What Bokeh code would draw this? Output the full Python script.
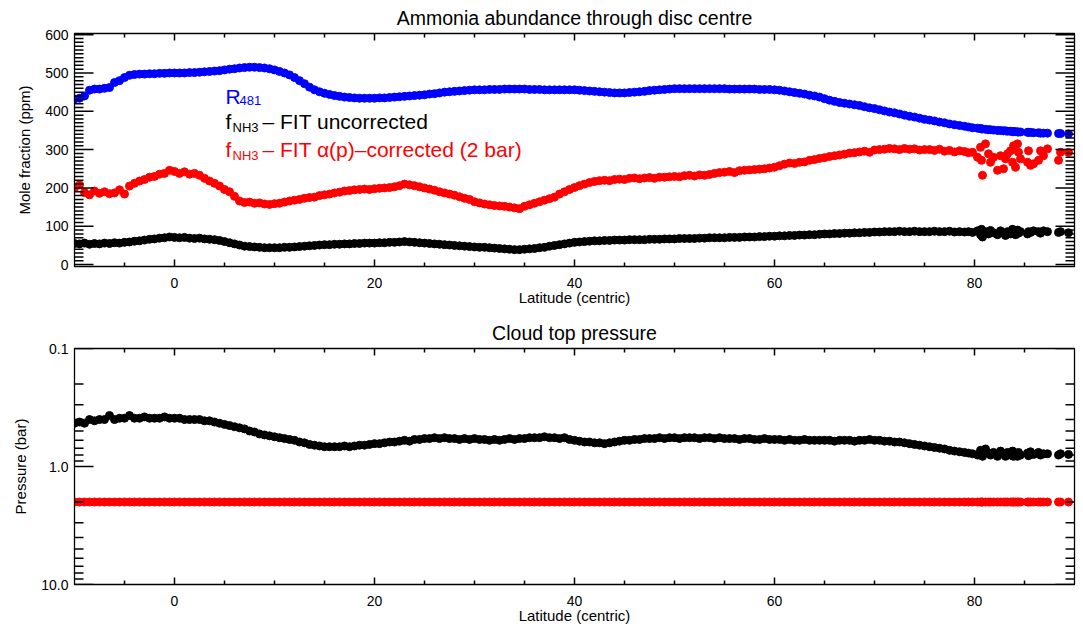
from bokeh.plotting import figure
from bokeh.models import Range1d, FixedTicker, PrintfTickFormatter, Label
from bokeh.layouts import column
from bokeh.embed import file_html
from bokeh.resources import INLINE

FONT = "Liberation Sans"

# ---------------- data ----------------
# latitude grid: -10 .. 75 every 0.5 deg, then irregular polar samples
lat_eq = [-10 + 0.5 * i for i in range(171)]
lat_polar = [75.5, 76.0, 76.5, 77.0, 77.5, 78.0, 78.5, 79.0, 79.4, 79.8,
             80.3, 80.6, 80.7, 80.8, 81.1, 81.4, 81.6, 81.9, 82.3, 82.6,
             82.9, 83.1, 83.3, 83.6, 83.8, 83.9, 84.1, 84.3, 84.4, 84.6,
             85.3, 85.4, 85.6, 85.9, 86.4, 86.6, 86.9, 87.3, 88.4, 88.6, 89.4]

# R481 (blue)
r481_eq = [
    432, 434, 440, 455, 458, 458, 460, 462, 475, 480,
    488, 494, 496, 497, 497, 498, 498, 499, 499, 500,
    500, 500, 500, 501, 501, 502, 503, 504, 505, 506,
    508, 510, 511, 513, 514, 515, 515, 514, 513, 511,
    508, 504, 500, 495, 488, 480, 472, 463, 456, 451,
    447, 444, 441, 439, 437, 436, 435, 434, 434, 434,
    434, 435, 435, 436, 437, 438, 439, 440, 441, 442,
    443, 445, 446, 448, 450, 451, 452, 453, 454, 455,
    456, 456, 456, 457, 457, 457, 458, 458, 458, 458,
    458, 457, 457, 457, 456, 456, 456, 456, 456, 456,
    456, 455, 454, 453, 452, 451, 450, 449, 448, 448,
    448, 449, 450, 451, 452, 454, 455, 456, 457, 458,
    459, 459, 459, 459, 459, 459, 459, 459, 459, 459,
    459, 458, 458, 458, 458, 458, 458, 457, 457, 457,
    456, 455, 453, 451, 449, 447, 445, 442, 440, 437,
    433, 429, 426, 423, 421, 419, 417, 415, 412, 409,
    407, 404, 401, 398, 396, 393, 390, 387, 385, 382,
    379]
r481_polar = [377, 375, 372, 370, 367, 365, 363, 361, 359, 357,
              356, 355, 354, 354, 353, 352, 352, 351, 350, 350,
              349, 349, 348, 348, 347, 347, 347, 346, 346, 346,
              345, 345, 345, 344, 344, 343, 343, 343, 342, 342, 341]

# f_NH3 - FIT alpha(p)-corrected (red)
fnh3_corr_eq = [
    200, 208, 188, 182, 192, 186, 190, 185, 187, 195,
    184, 205, 212, 218, 222, 228, 230, 236, 238, 246,
    243, 238, 242, 236, 238, 233, 225, 218, 212, 205,
    196, 190, 178, 166, 162, 163, 160, 161, 158, 157,
    159, 160, 163, 166, 168, 170, 173, 175, 176, 180,
    182, 184, 187, 189, 192, 193, 195, 196, 197, 196,
    198, 199, 200, 201, 203, 206, 210, 208, 206, 203,
    200, 197, 194, 190, 187, 184, 181, 177, 173, 170,
    164, 161, 158, 156, 154, 153, 152, 150, 148, 146,
    152, 156, 160, 164, 168, 172, 176, 184, 190, 196,
    201, 206, 210, 214, 217, 219, 220, 219, 222, 223,
    222, 225, 226, 224, 226, 227, 225, 228, 228, 229,
    230, 229, 232, 233, 231, 234, 233, 235, 238, 240,
    241, 243, 240, 245, 246, 247, 248, 249, 250, 252,
    254, 258, 262, 265, 264, 267, 268, 272, 274, 277,
    279, 282, 284, 286, 288, 291, 292, 294, 296, 293,
    299, 300, 301, 303, 302, 300, 303, 301, 302, 299,
    300]
fnh3_corr_polar = [300, 298, 301, 296, 298, 294, 297, 295, 292, 293,
                   280, 306, 272, 233, 315, 289, 267, 280, 246, 284,
                   250, 276, 289, 297, 267, 310, 254, 315, 293, 276,
                   267, 297, 259, 263, 272, 297, 284, 302, 272, 293, 293]

# f_NH3 - FIT uncorrected (black)
fnh3_unc_eq = [
    55, 54, 56, 53, 55, 54, 56, 55, 57, 56,
    58, 59, 61, 62, 64, 66, 67, 69, 70, 72,
    71, 70, 71, 69, 68, 69, 67, 66, 65, 63,
    60, 57, 54, 51, 48, 47, 46, 45, 44, 44,
    44, 44, 45, 45, 46, 47, 48, 49, 50, 51,
    52, 52, 53, 53, 54, 54, 55, 55, 56, 56,
    56, 57, 57, 58, 58, 59, 60, 59, 58, 57,
    56, 55, 54, 53, 52, 51, 50, 49, 48, 47,
    46, 45, 45, 44, 43, 42, 41, 40, 39, 39,
    40, 41, 42, 44, 45, 48, 50, 52, 54, 56,
    58, 59, 60, 61, 62, 62, 63, 63, 64, 64,
    64, 65, 65, 65, 65, 66, 66, 66, 67, 67,
    67, 68, 68, 68, 68, 69, 69, 70, 70, 70,
    70, 71, 71, 71, 72, 72, 72, 73, 73, 74,
    74, 75, 75, 76, 76, 77, 77, 78, 78, 79,
    80, 80, 81, 81, 82, 82, 83, 83, 84, 84,
    85, 85, 86, 86, 86, 87, 86, 86, 87, 86,
    86]
fnh3_unc_polar = [86, 87, 86, 86, 87, 85, 86, 85, 86, 84,
                  88, 78, 92, 72, 86, 80, 89, 83, 78, 88,
                  82, 76, 86, 80, 92, 84, 78, 90, 82, 86,
                  80, 86, 84, 88, 86, 82, 88, 86, 84, 86, 83]

# cloud-top pressure (bar), FIT (black)
p_cloud_eq = [
    0.43, 0.42, 0.43, 0.40, 0.41, 0.40, 0.40, 0.37, 0.40, 0.39,
    0.39, 0.37, 0.39, 0.39, 0.38, 0.39, 0.39, 0.39, 0.38, 0.39,
    0.39, 0.39, 0.40, 0.40, 0.40, 0.40, 0.41, 0.41, 0.42, 0.43,
    0.44, 0.45, 0.46, 0.47, 0.48, 0.50, 0.51, 0.53, 0.54, 0.55,
    0.56, 0.57, 0.58, 0.59, 0.60, 0.62, 0.63, 0.65, 0.66, 0.67,
    0.68, 0.68, 0.68, 0.68, 0.67, 0.68, 0.67, 0.66, 0.66, 0.65,
    0.64, 0.64, 0.63, 0.62, 0.62, 0.61, 0.60, 0.61, 0.59, 0.59,
    0.58, 0.58, 0.57, 0.58, 0.57, 0.58, 0.58, 0.59, 0.58, 0.59,
    0.58, 0.59, 0.59, 0.60, 0.59, 0.60, 0.59, 0.58, 0.59, 0.58,
    0.58, 0.57, 0.57, 0.57, 0.56, 0.57, 0.57, 0.58, 0.57, 0.59,
    0.60, 0.61, 0.62, 0.62, 0.63, 0.63, 0.64, 0.63, 0.62, 0.61,
    0.60, 0.60, 0.59, 0.59, 0.58, 0.58, 0.58, 0.57, 0.58, 0.57,
    0.57, 0.58, 0.57, 0.57, 0.57, 0.58, 0.57, 0.57, 0.58, 0.57,
    0.58, 0.58, 0.58, 0.59, 0.58, 0.58, 0.59, 0.59, 0.58, 0.59,
    0.59, 0.59, 0.60, 0.59, 0.60, 0.60, 0.59, 0.60, 0.60, 0.60,
    0.60, 0.60, 0.61, 0.60, 0.60, 0.60, 0.61, 0.60, 0.60, 0.59,
    0.60, 0.60, 0.61, 0.61, 0.62, 0.62, 0.63, 0.64, 0.65, 0.66,
    0.67]
p_cloud_polar = [0.68, 0.69, 0.70, 0.71, 0.73, 0.74, 0.75, 0.76, 0.77, 0.78,
                 0.80, 0.73, 0.79, 0.82, 0.71, 0.77, 0.80, 0.76, 0.82, 0.74,
                 0.78, 0.82, 0.76, 0.80, 0.74, 0.82, 0.78, 0.82, 0.76, 0.80,
                 0.77, 0.81, 0.75, 0.79, 0.76, 0.80, 0.78, 0.78, 0.80, 0.78, 0.79]

# the alpha(p)-corrected retrieval assumes a fixed 2-bar level
p_fixed = 2.0

# ticks
x_major = [0, 20, 40, 60, 80]
x_minor = [v for v in range(-5, 90, 5) if v not in x_major]
ppm_major = [0, 100, 200, 300, 400, 500, 600]
ppm_minor = [v for v in range(10, 600, 10) if v not in ppm_major]
pres_major = [0.1, 1.0, 10.0]
pres_minor = [round(m * d, 2) for d in (0.1, 1.0) for m in range(2, 10)]

# styling constants (pixels)
FRAME_W = 1000
TICK_X_MAJOR, TICK_X_MINOR = 7, 4
TICK_Y_MAJOR, TICK_Y_MINOR = 19, 9
TICK_W = 1.5


def pair(xs, ys):
    n = min(len(xs), len(ys))
    return list(xs[:n]), list(ys[:n])


def series(eq, polar):
    x1, y1 = pair(lat_eq, eq)
    x2, y2 = pair(lat_polar, polar)
    return x1 + x2, y1 + y2


def style_axes(p, y_major, y_fmt=None):
    xa = p.below[0]
    ya = p.left[0]
    xa.ticker = FixedTicker(ticks=x_major, minor_ticks=[])
    ya.ticker = FixedTicker(ticks=y_major, minor_ticks=[])
    if y_fmt is not None:
        ya.formatter = y_fmt
    for ax in (xa, ya):
        ax.axis_line_color = "black"
        ax.major_tick_in = 0
        ax.major_tick_out = 0
        ax.minor_tick_in = 0
        ax.minor_tick_out = 0
        ax.major_label_text_font = FONT
        ax.major_label_text_font_size = "14px"
        ax.major_label_text_color = "black"
        ax.axis_label_text_font = FONT
        ax.axis_label_text_font_size = "15px"
        ax.axis_label_text_font_style = "normal"
        ax.axis_label_text_color = "black"
    xa.major_label_standoff = 11
    xa.axis_label_standoff = -2
    ya.major_label_standoff = 6
    ya.axis_label_standoff = 9
    return xa, ya


def draw_ticks(p, xr, yr, frame_h, y_major, y_minor, ylog=False):
    """Inward tick marks on all four sides, at the tick values."""
    kw = dict(line_color="black", line_width=TICK_W)
    xs0, xs1 = xr.start, xr.end
    dx = (xs1 - xs0) / FRAME_W  # data units per pixel in x

    def ystep(y, npx, inward_from_start):
        if ylog:
            ratio = (yr.end / yr.start) ** (npx / frame_h)
            return y * ratio if inward_from_start else y / ratio
        d = (yr.end - yr.start) * npx / frame_h
        return y + d if inward_from_start else y - d

    for xs, ln in ((x_major, TICK_X_MAJOR), (x_minor, TICK_X_MINOR)):
        n = len(xs)
        b1 = ystep(yr.start, ln, True)
        t1 = ystep(yr.end, ln, False)
        p.segment(x0=xs, y0=[yr.start] * n, x1=xs, y1=[b1] * n, **kw)
        p.segment(x0=xs, y0=[yr.end] * n, x1=xs, y1=[t1] * n, **kw)
    for ys, ln in ((y_major, TICK_Y_MAJOR), (y_minor, TICK_Y_MINOR)):
        n = len(ys)
        p.segment(x0=[xs0] * n, y0=ys, x1=[xs0 + ln * dx] * n, y1=ys, **kw)
        p.segment(x0=[xs1 - ln * dx] * n, y0=ys, x1=[xs1] * n, y1=ys, **kw)


def base_figure(height, x_range, y_range, top_border, bottom_border, title, y_axis_type="linear"):
    p = figure(width=1083, height=height, x_range=x_range, y_range=y_range,
               y_axis_type=y_axis_type, output_backend="svg", toolbar_location=None,
               min_border_left=74, min_border_right=9,
               min_border_top=top_border, min_border_bottom=bottom_border,
               title=title)
    p.grid.visible = False
    p.outline_line_color = "black"
    p.outline_line_width = 1.3
    p.background_fill_color = "white"
    p.border_fill_color = "white"
    p.title.align = "center"
    p.title.text_font = FONT
    p.title.text_font_size = "19.5px"
    p.title.text_font_style = "normal"
    p.title.text_color = "black"
    p.title.standoff = 9
    return p


# ---------------- top panel ----------------
xr1 = Range1d(-10, 90)
yr1 = Range1d(-5, 603)
p1 = base_figure(308, xr1, yr1, 32, 41, "Ammonia abundance through disc centre")

xb, yb = series(r481_eq, r481_polar)
xr, yr = series(fnh3_corr_eq, fnh3_corr_polar)
xk, yk = series(fnh3_unc_eq, fnh3_unc_polar)
p1.scatter(xb, yb, size=8, fill_color="#0000ff", line_color="#0000ff")
p1.scatter(xr, yr, size=8, fill_color="#ff0000", line_color="#ff0000")
p1.scatter(xk, yk, size=8, fill_color="black", line_color="black")

xa1, ya1 = style_axes(p1, ppm_major)
xa1.axis_label = "Latitude (centric)"
ya1.axis_label = "Mole fraction (ppm)"
draw_ticks(p1, xr1, yr1, 235, ppm_major, ppm_minor)

# legend-like annotations
lx = 5.1
big = "21px"
small = "13px"


def lab(x, y, text, color, size, xo=0, yo=0):
    p1.add_layout(Label(x=x, y=y, text=text, text_color=color, text_font=FONT,
                        text_font_size=size, text_baseline="alphabetic",
                        x_offset=xo, y_offset=yo))


lab(lx, 439.5, "R", "#0000ff", big)
lab(lx, 439.5, "481", "#0000ff", small, xo=14, yo=-4)
lab(lx, 372.3, "f", "black", big)
lab(lx, 372.3, "NH3", "black", small, xo=7, yo=-6)
lab(lx, 372.3, "\u2013 FIT uncorrected", "black", big, xo=37)
lab(lx, 300.0, "f", "#ff0000", big)
lab(lx, 300.0, "NH3", "#ff0000", small, xo=7, yo=-6)
lab(lx, 300.0, "\u2013 FIT \u03b1(p)\u2013corrected (2 bar)", "#ff0000", big, xo=37)

# ---------------- bottom panel ----------------
xr2 = Range1d(-10, 90)
yr2 = Range1d(10.0, 0.1)
p2 = base_figure(318, xr2, yr2, 40, 41, "Cloud top pressure", y_axis_type="log")

xc, yc = series(p_cloud_eq, p_cloud_polar)
p2.scatter(xc, yc, size=8, fill_color="black", line_color="black")
p2.scatter(xc, [p_fixed] * len(xc), size=8, fill_color="#ff0000", line_color="#ff0000")

xa2, ya2 = style_axes(p2, pres_major, PrintfTickFormatter(format="%.1f"))
xa2.axis_label = "Latitude (centric)"
ya2.axis_label = "Pressure (bar)"
draw_ticks(p2, xr2, yr2, 237, pres_major, pres_minor, ylog=True)

layout = column(p1, p2, spacing=0)
open("out.html", "w").write(file_html(layout, INLINE))
